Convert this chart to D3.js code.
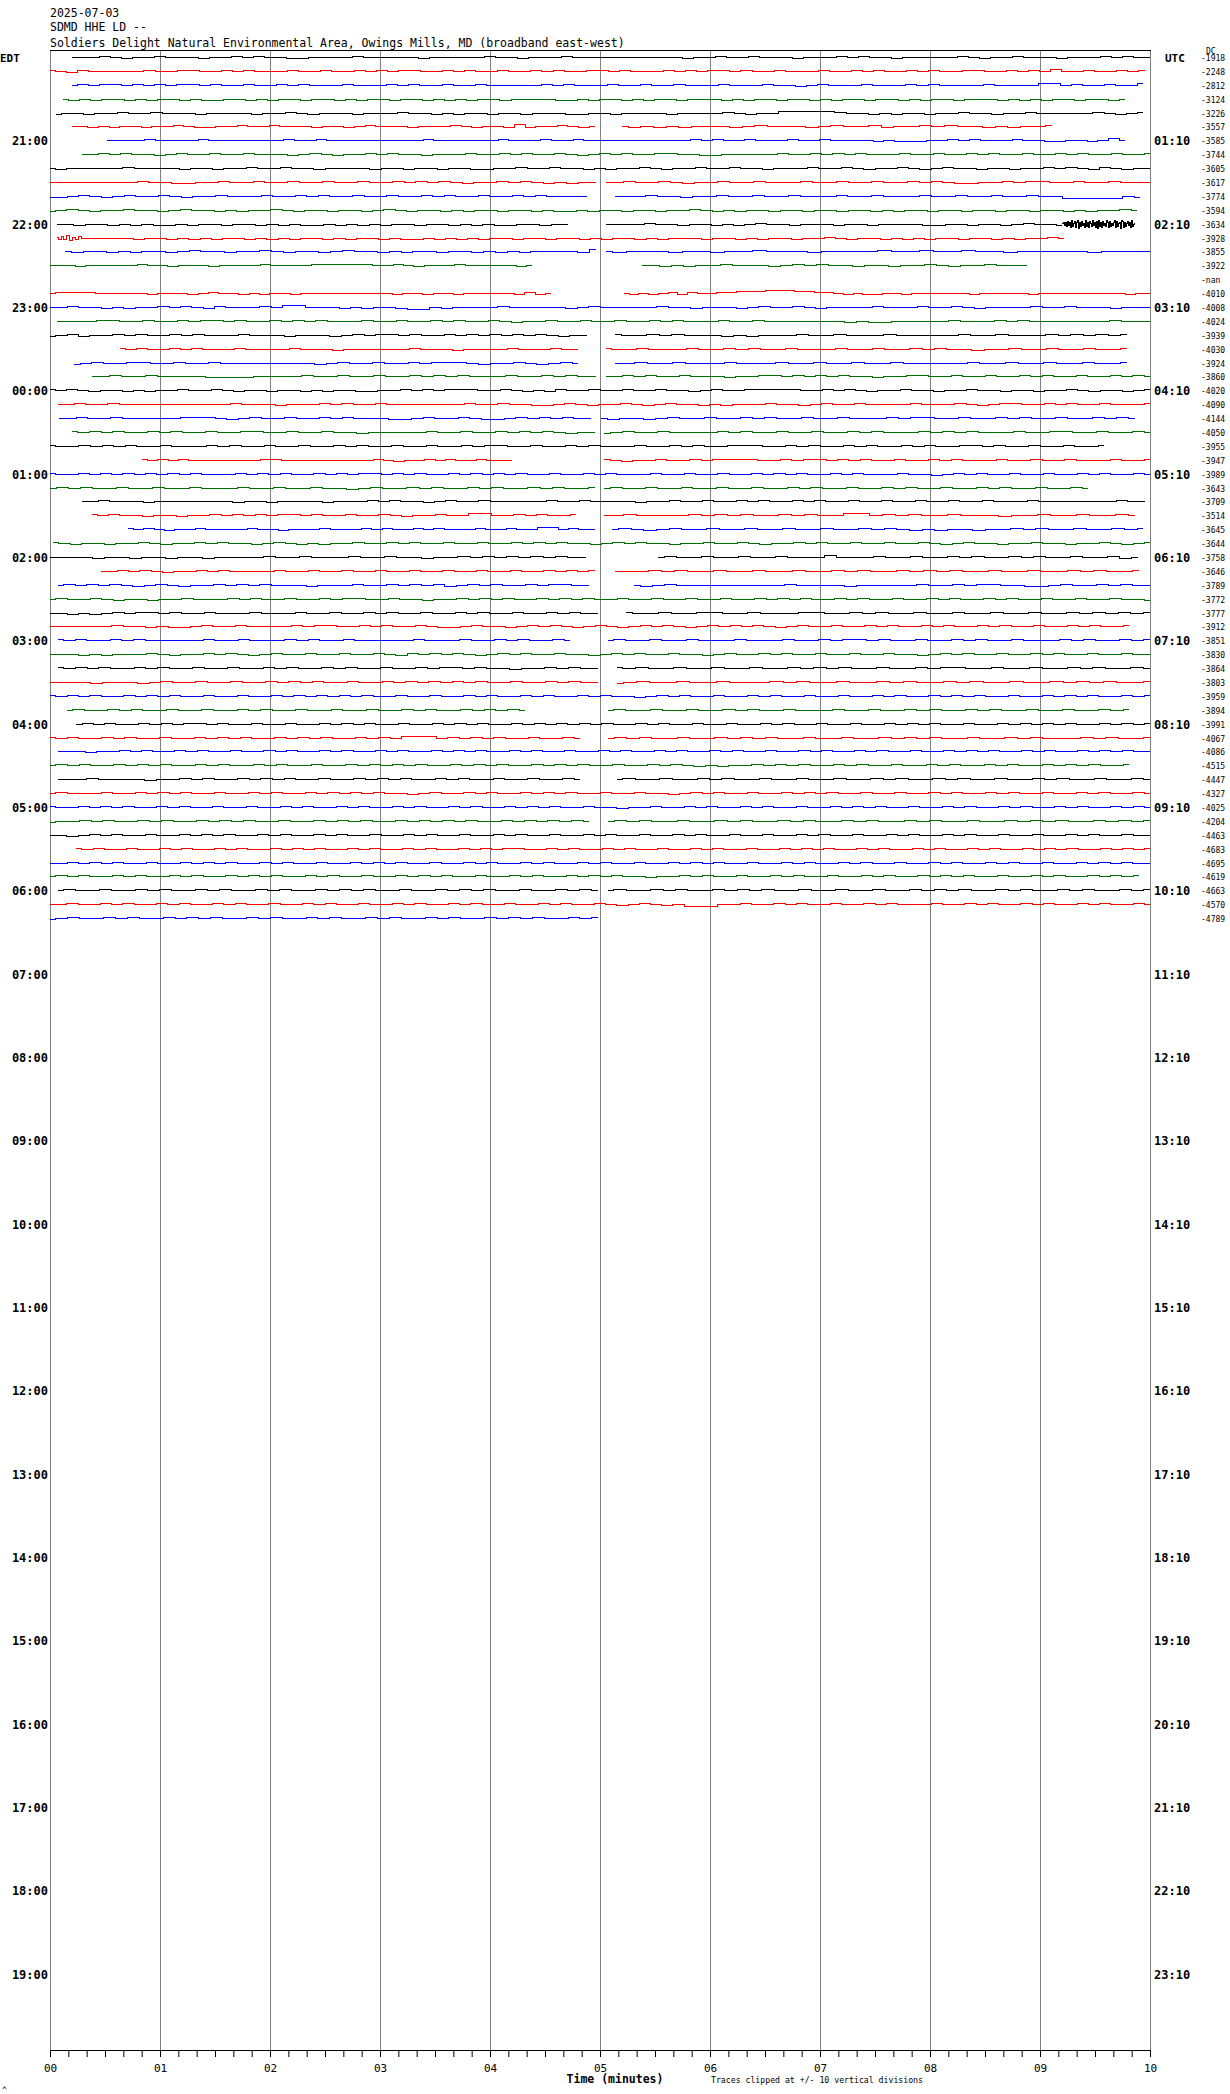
<!DOCTYPE html>
<html><head><meta charset="utf-8">
<script src="https://cdn.jsdelivr.net/npm/d3@7"></script>
<style>
body{margin:0;background:#fff;}
svg{display:block;background:#fff;}
text{font-family:"DejaVu Sans Mono",monospace;fill:#000;}
</style></head><body>
<svg id="chart" width="1230" height="2094"></svg>
<script>
// ---------------- data ----------------
const titleLines = ["2025-07-03", "SDMD HHE LD --",
  "Soldiers Delight Natural Environmental Area, Owings Mills, MD (broadband east-west)"];
const localTimeLabels = ["EDT","21:00","22:00","23:00","00:00","01:00","02:00","03:00","04:00","05:00","06:00",
  "07:00","08:00","09:00","10:00","11:00","12:00","13:00","14:00","15:00","16:00","17:00","18:00","19:00"];
const utcTimeLabels = ["UTC","01:10","02:10","03:10","04:10","05:10","06:10","07:10","08:10","09:10","10:10",
  "11:10","12:10","13:10","14:10","15:10","16:10","17:10","18:10","19:10","20:10","21:10","22:10","23:10"];
const minuteLabels = ["00","01","02","03","04","05","06","07","08","09","10"];
const rowColors = ["#000000","#ff0000","#0000ff","#006e00"];
const rowMeans = [-1918,-2248,-2812,-3124,-3226,-3557,-3585,-3744,-3605,-3617,-3774,-3594,-3634,-3928,-3855,-3922,
  null,-4010,-4008,-4024,-3939,-4030,-3924,-3860,-4020,-4090,-4144,-4050,-3955,-3947,-3989,-3643,
  -3709,-3514,-3645,-3644,-3758,-3646,-3789,-3772,-3777,-3912,-3851,-3830,-3864,-3803,-3959,-3894,
  -3991,-4067,-4086,-4515,-4447,-4327,-4025,-4204,-4463,-4683,-4695,-4619,-4663,-4570,-4789];
// data coverage per row, in minutes [start, end]
const segments = [
 [[0.2,10]],[[0,9.95]],[[0.2,9.94]],[[0.12,9.77]],
 [[0.05,9.94]],[[0.2,4.95],[5.2,9.11]],[[0.52,9.77]],[[0.29,10]],
 [[0,10]],[[0,4.96],[5.05,10]],[[0,4.88],[5.14,9.91]],[[0,9.88]],
 [[0.06,4.71],[5.05,9.2],[9.2,9.86]],[[0.06,0.3],[0.3,9.22]],[[0.14,4.96],[5.05,10]],[[0,4.38],[5.38,8.88]],
 [],[[0,4.55],[5.22,10]],[[0,10]],[[0.06,10]],
 [[0,4.88],[5.14,9.79]],[[0.64,4.8],[5.05,9.79]],[[0.22,4.8],[5.14,9.79]],[[0.38,4.96],[5.05,10]],
 [[0,10]],[[0.07,10]],[[0.08,4.92],[5.01,9.86]],[[0.2,4.95],[5.04,10]],
 [[0,9.58]],[[0.84,4.2],[5.04,10]],[[0,10]],[[0,4.95],[5.04,9.44]],
 [[0.29,9.95]],[[0.38,4.78],[5.04,9.86]],[[0.71,4.95],[5.11,9.94]],[[0.03,10]],
 [[0,4.87],[5.53,9.89]],[[0.46,4.95],[5.14,9.9]],[[0.07,4.9],[5.31,10]],[[0,10]],
 [[0,4.98],[5.24,10]],[[0,9.81]],[[0.07,4.73],[5.07,10]],[[0,10]],
 [[0.07,4.98],[5.15,10]],[[0,4.98],[5.15,10]],[[0,10]],[[0.15,4.32],[5.07,9.81]],
 [[0.24,10]],[[0,4.82],[5.07,10]],[[0.07,10]],[[0,9.81]],
 [[0.07,4.82],[5.15,10]],[[0,10]],[[0,10]],[[0,4.9],[5.07,10]],
 [[0,10]],[[0.24,10]],[[0,10]],[[0,9.9]],
 [[0.07,4.98],[5.07,10]],[[0,10]],[[0,4.98]]
];
// trace samples per segment ('|' separates segments); levels: v w x y z . a b c d e = -5..+5
const wiggles = [
 "...a.z..a...z..a.a..zz....a.....z.....a..z...a..........z..a..a...z...a.a..z.....a.z..a...z...a.a..",
 "a.za.....a..aa..a.a...a..a..a.a.aa..a.a..a..a.a..aa.a...a.a.aa.a..a...a..a.a..a.a..aa..a.a.b..a..a.a",
 ".a.aa.a.a.aa.a..a..a.a...a...a.a..a..a.....a.a...a..a..a...a...a..z.a...a...a.a....a....bb.a..a..b",
 ".z.z..z.z..z.zz..z.z..z..z.z..z..z.z.z..z....zz.z..z.z..z...z.z..z..z.z..z..z.z..z...z.z.z..z..z.",
 "z..z..a..a...z....z..a.z...z...a..z.z..z..z...zz..z....z....a.z..bbbbba..z.z..z..a..z..a.....a.z.a",
 "..z.z..z..a.zz..a..a...z..z.a...z...a.z..zbz..a.z.|.z.z.z...z.a...z.a..az..a.a..z.z..a",
 "....a....a.......a..a.........a......a...a..a..........a.a..a...a..a....z.zzz..a.a...a..zz..z.b.",
 "..a.a..z.a..a..a...z.a.z..a.a..z...a..a.a..a.z.a.a..aa..zz.....a..a.a.a...a..a..a.a..a..a.a..a..a",
 ".z.....a....z..z..a..a..z....z..z..z..zz..a..a..z.z..a.z..a..a..z...a..a.z..a.z.a..z..z..a.a.za.z..",
 "........a..zz..a..a..a..a..a..a.a.a.z..a.a.z.z..|..a..a.z..a..a...a..a..a..a.a.zz..a.aa..a..a...",
 "zz.a.z.a..a.z..a...a..a.a..a..a..a.a..a..a.a....|...a..z..a..a..a...a..a...a..a..a..a..yyyyy.z",
 "z.a.z..a..z.a..z.z..a.z..z..z.a.z..z.z..z..z.zz.z..z..z..a.z.z..z..z..z..z.z..z..z..z..z..z.z..a.",
 "..z..z.z.zz.z..z..z.z.zz.z.z.z..z..z.z.zz..z..|....a..z..z.z.a..z...z..z....zz..z..z.a..z|aabzbyczbxdyacxbdwbyczaxdybxcaydzbxcwdybxczaydbxcyazbdxcyabwdcxbyaczbxdy.a",
 "azbzcyazb.|.....z..z.z.z..z.z.z..z.z..z.zz.z.z.z..z..z..z.z..z.z...z..z.z..z..a.z..z.z.z..z..z.z..a.",
 ".z..z.z..z.a..z..a.z..z.a..z.z..z..z.z.z....zb|.z...z..z..a...z....a..a..a..z.....z....",
 "...z.....a..z...z....a....aaaaaa..a.z...a.....z.|..z.z..a...z.a.a..z..z..a.z..a...",
 "",
 ".aaaa.....z...z.a..z.z..z.........z..z..z.....zaz.|.z.z.aza..aabbbcccbbaa.z.zz..z......z.....z.........z..",
 "..a..z.z..a.a.za...a.bb...z.z..zyy.z....a.....z.a.....a..z...z.a..a.z....a...a..a.z....a..a...z...",
 "....aa..a..a.aa.a..a.a.a...a..a..a.a..a.z..a..a..a..a.a...a..a.......z.zz.....a...a.a.......a...",
 "z.az..a.a..a.a...a...z...z.a.aa.a..a.a.a.a.a.z..|a..a.a...z.z...a..a...a.....a..a...a.a.a.a",
 "a.a..a.a...a....a...z......a...z....a...a..|a..a...a..a.a..a...a..a..a.a..z..a..a..a..a",
 "z.a..aa..a..a........z.a..a..a.aaa.z..a.z.a.|..a..a...a...a..a..a..a.....a..a..a..a..a",
 "..a..a....zzzz....a..a..a..a.a.a...a..a.a..|..a.a..a...z..aa.a.a.a..z..aa..a..a..a.a..a..a.a.",
 "a.a.z..z.z..a..a.z..z..z.z..zz..a.a.aaa..a.z.za..a..a..a..z.a..aaaaa..a.a.z..a..z..a..z..z..a.z..z.a",
 "..a..a..........a...z...a.a..a.......a..a..zz.a.z..a.z.a..z.z...a..z.a..a....a...a.z.aa..a.a..a...a",
 "..a..a.....aaa.z.a..a..a.a...zz.a..a.zz.a.a.a..|.z..z.a..a..a.a..a..a...a.aa..a..a.a..a..a.a.",
 "a.a.a..a.a..a..aa..a..a..z.....a..a..a.a.a.z..|z.a..a....a.a..a..a..a.a...a.a.a...a..aa..a..a.",
 "a..a.a.a..a...a.a..a..a..a.a..a..a..a.aa..a..a.a...a..a.a..aaa..a.a..a.a..a.a..aa.a..a..a..a",
 "a.a.a.......aa.........a.z..a.a..a...|a.z..a..a.aaaa..a.aa.a.a..a..a.a...a..a..a...a..a",
 "a..a.a.a.a.a.a...a.a.a..a.a.aa.a.a..a.a.a.a..a..a.a...a..a..a..a.a.a..a.a...a..z.a.a..a..a..a.a..a.",
 ".a.a..a..a..a...a..a..a..z.a..a.a..a.a..a.a..a|.a..a..a..a..a..a.a..a..a.a..a..a.a..a..a.",
 "..a...z.......z..z....z...a.a..z.a..a.....a..a....z..a..a..a.a..a.a..a..a..a..a..a...a.......a..",
 "a.a..z..z..a.a.a.aa.a..a..a.z..a..bb..a.a..a|..a....a.a.a..a.a..bb.a.a..a...z..a..a..a.",
 "a.a.z..a....a..z...a...a.a..a.a...a..a..bb.a..|.a.z.a..a..a..a..a..a.a.z.z..z..a.a..a..a.a",
 "a.z..z..a.z..a.a..z.a.z.z..a..a.a..a..a..a.a.a..z.a.a..z..a..a.z..a.a..a..a..a.z.a..z..a..z..a.z.a",
 "....z..z..z..z....a..a...a..a..z..a.a.a.a.a..|.a..a..a..a...b...a..a..a.a..a.a..a..az.",
 "..a.a.z..a.a....a..a..a..a..a..a..a..a..a.a.a|...a.a..a..a..a..a.a..a.a.a..a..a..a.a..a",
 ".a.a.a.z.a.z..a.a.a...z...a..a.a.az.a.a..a.aa..|.z.a.........a....z.....a..a.aa..zz.a..a.a..",
 ".a..a.z..z..a...a.a..a..a.aa..a..z..a.a.a..a.a.a..a..a..a..a..a.a.a..a.a..a..a.a..a.a..a..a..a..z",
 "..z.z.a.aa.a..a...a...a..a..a.a..a..a.a..a..a.a..|a..a..aa..a...aa..a.a..a..a..a..a..a.a.a.a",
 "......a..z.zz.a..a....a.aa..a.a..a.zz.a..z.a.a.z.a.z.a.a.z.a.a.a.z.a..a..a.a..a.a..a.a..a..a.a..a",
 "a.a..a.a.....a..a...a.a..a.....a...a..a.a..a.|.a..a..a...a...a..a.aa.a..a..a.a..a...a.a..a.a",
 "...z.z...a.z..a.a.z.a..a..a..a.za.a.a.z.a.a..a..z.a.a..a..z.a..a.a..a..a..a..z.a.a..a..a.a..a..a..",
 "a.a.a..a.a..a..a..a.a..a.a..a..a.aa.a..z..a.a..|a.a..a..a..a..a.a.a..a..a.aa..a..a..a.a..a.",
 "....z...z.a..a..a..a.a.a..a..a.a.a.a.a..a..a.a..|z.a..a..a...a.a..a..a.a..a.a..a..a.a.a..a",
 "a.a.a..a.a.a..a..a..a.a.a.a.a..a..a..a.a..a.a..a.a..z.a.a..a..a.a..a..a..a.a..a.a.a..a..a.a.a..a.a",
 ".a..a.a..a..a..a.a..a..a..a..a.a..a.a.a.|.a..a..a..a.a..a...a..a..a.a..a.a..a..a..a.a",
 ".a.a..a.a.aa.a..a..a..a.a.a..a..a.a.a..a.a.a.a.a..a.a..a..a..a.a..a..a..a.a.a..a..a.a.a.a..a.a.a",
 "a.a..a.a..a..a.a.a..a.a.a..a.a.bbb.a.a.a..a..a.|.a.a..a..a.a.a..a..a..a.a.a..a..a.a...a.a..a",
 "...z..a.a..a.a..a..a.a..a.a..a.a..a.a.a..a.a..a..a.a..a.a..a.a..a..a.a..a.a..a..a.a.a..a.a..a.a.a..",
 ".a.a..a.a.a..a.a..a.a..a..a.a.a.a..a.a.a..a.a.a..a..a.a.z.z..a.a.a..a.a..a..a.a..a.a..a.a.a..a",
 "...a....z..a.a..a.a.a..a..a.a.a..a.a..a..a..a.|.a..a..a.a..a..a..a..a.a..a.a..a..a.a..a..a.",
 ".a...a..a.a.a..a..a.a..a.a.a.a..z.a..a.a..a.a.a..a..a..z.a.a..a..a.a.a..a..a..a.a..a.a..a..a.a..a.",
 "a..a.a.a..a.a..a..a..a.a..a.a..a.a..a.a..a.a.a..a..z..a..a.a..a.a..a..a.a.a..a..a.a..a.a..a.a..a.a.",
 "z..a.a..a.a..a.a.a..a..a.a.a..a.a.a.a..a.a.a.a.|.a.a..a..a.a..a.a..a.a..a.a..a..a.a.a..a.a.a",
 "..z.a.a..a..a.a.a..a.a..a.a..a..a.a..a..a.a..a..a.a..a..a.a..a..a..a.a..a..a.a..a.a..a..a..a.a..a..",
 "a.a..a..a.a..a.a..a.a.a..a.a..a.a..a.a.aa..a.a..a.a..a..a.a..a..a.a.a..a.a..a.a..a.a..a.a.a..a.a.a",
 "..a.a.a..a..a.a.a..a.a..a..a.a.a..a..a.a..a.a..a.a..a..a.a.a..a..a.a..a.a..a..a.a..a.a..a..a.a.a..",
 ".a.a..a.a..a.a..a.a.a..a.a..a..a.a.a..a..a.a..a.a.a..z..a.a..a..a.a..a..a.a..a.a.a..a..a.a..a.a.a",
 ".a..a..a.a..a.a..a.a..a.a.a..a..a.a.a..a..a.a.|.a..a.a..a.a.a..a..a..a..a.a.a..a.a..a.a..a.a",
 "..a..a.a..a.a..a.a..a..a.a..a..a.a..a.a..a..a.a..a.z.a.z.yyy..a..a.a..a..a.a...a..a.a..a.a..a.a..a.",
 "z.a..a.a..a.a.a..a.a..a.a..a.a..a.a..a.a.a..a.a"
];
const levelChars = "vwxyz.abcde";
const axisTitle = "Time (minutes)";
const clipNote = "Traces clipped at +/- 10 vertical divisions";

// ---------------- drawing ----------------
const svg = d3.select("#chart");
const x = d3.scaleLinear().domain([0, 10]).range([50, 1150]);
const rowScale = d3.scaleLinear().domain([0, 144]).range([50, 2050]);
const amp = d3.scaleLinear().domain([-5, 5]).range([5, -5]);
const rowY = i => Math.round(rowScale(i + 0.5)) + 0.5;

// title
svg.append("g").selectAll("text").data(titleLines).join("text")
  .attr("x", 50).attr("y", (d, i) => [16.5, 30.5, 46.5][i])
  .attr("font-size", 11.5).text(d => d);

// minute grid lines
svg.append("g").selectAll("line").data(d3.range(0, 11)).join("line")
  .attr("x1", d => Math.round(x(d)) + 0.5).attr("x2", d => Math.round(x(d)) + 0.5)
  .attr("y1", 50).attr("y2", 2050)
  .attr("stroke", "#808080").attr("stroke-width", 1);

// top border
svg.append("line").attr("x1", 50).attr("x2", 1151).attr("y1", 50.5).attr("y2", 50.5)
  .attr("stroke", "#000").attr("stroke-width", 1);

// traces
const line = d3.line().x(d => x(d.t)).y(d => d.y).curve(d3.curveStep);
const traceG = svg.append("g").attr("shape-rendering", "crispEdges");
segments.forEach((segs, i) => {
  const parts = wiggles[i] ? wiggles[i].split("|") : [];
  segs.forEach((seg, k) => {
    const s = parts[k] || "..";
    const n = s.length;
    const pts = Array.from(s).map((c, j) => ({
      t: seg[0] + (seg[1] - seg[0]) * j / Math.max(1, n - 1),
      y: rowY(i) + amp(levelChars.indexOf(c) - 5)
    }));
    traceG.append("path").attr("d", line(pts))
      .attr("fill", "none").attr("stroke", rowColors[i % 4]).attr("stroke-width", 1);
  });
});

// left (local) hour labels
svg.append("g").selectAll("text").data(localTimeLabels).join("text")
  .attr("x", (d, i) => i === 0 ? 0 : 48)
  .attr("y", (d, i) => rowY(i * 6) + 4.5)
  .attr("text-anchor", (d, i) => i === 0 ? "start" : "end")
  .attr("font-weight", "bold").attr("font-size", (d, i) => i === 0 ? 11 : 12)
  .text(d => d);

// right (UTC) hour labels
svg.append("g").selectAll("text").data(utcTimeLabels).join("text")
  .attr("x", (d, i) => i === 0 ? 1165 : 1154)
  .attr("y", (d, i) => rowY(i * 6) + 4.5)
  .attr("font-weight", "bold").attr("font-size", (d, i) => i === 0 ? 11 : 12)
  .text(d => d);

// row mean values
svg.append("g").selectAll("text").data(rowMeans).join("text")
  .attr("x", 1201).attr("y", (d, i) => rowY(i) + 3.5)
  .attr("font-size", 8).text(d => d === null ? "-nan" : d);
svg.append("text").attr("x", 1206).attr("y", 54).attr("font-size", 8).text("DC");

// bottom axis
const minorAxis = d3.axisBottom(x).tickValues(d3.range(0, 61).map(k => k / 6))
  .tickSize(7).tickSizeOuter(0).tickFormat(() => "");
const ag = svg.append("g").attr("transform", "translate(0,2050)").call(minorAxis);
ag.select(".domain").attr("stroke", "#000");
ag.selectAll(".tick line").attr("stroke", "#000");
svg.append("g").selectAll("text").data(minuteLabels).join("text")
  .attr("x", (d, i) => x(i) + 0.5).attr("y", 2071.5)
  .attr("text-anchor", "middle").attr("font-size", 11).text(d => d);

svg.append("text").attr("x", 615).attr("y", 2083).attr("text-anchor", "middle")
  .attr("font-size", 11.5).attr("font-weight", "bold").text(axisTitle);
svg.append("text").attr("x", 711).attr("y", 2083).attr("font-size", 8.2).text(clipNote);
svg.append("text").attr("x", 2).attr("y", 2093).attr("font-size", 8).text("^");
</script>
</body></html>
